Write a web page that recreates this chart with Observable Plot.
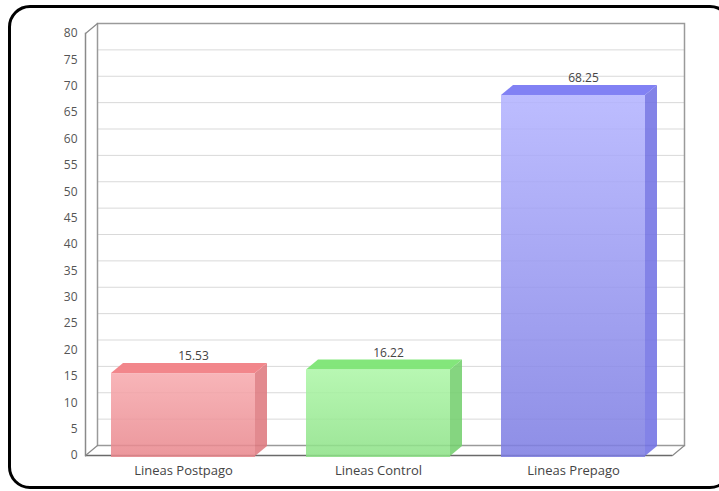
<!DOCTYPE html>
<html>
<head>
<meta charset="utf-8">
<script src="https://cdn.jsdelivr.net/npm/d3@7"></script>
<script src="https://cdn.jsdelivr.net/npm/@observablehq/plot@0.6"></script>
<style>
  html, body { margin: 0; padding: 0; background: #fff; width: 719px; height: 491px; overflow: hidden; }
  #border { position: absolute; left: 8px; top: 5px; width: 718px; height: 478px; border: 3px solid #000; border-radius: 22px; box-sizing: content-box; }
  #chart { position: absolute; left: 0; top: 0; }
  #chart svg { font-family: "Open Sans", sans-serif; }
</style>
</head>
<body>
<div id="border"></div>
<svg width="0" height="0" style="position:absolute">
  <defs>
    <linearGradient id="g0" x1="0" y1="0" x2="0" y2="1">
      <stop offset="0" stop-color="#f7a9ad"/><stop offset="1" stop-color="#e8868c"/>
    </linearGradient>
    <linearGradient id="g1" x1="0" y1="0" x2="0" y2="1">
      <stop offset="0" stop-color="#acf6a6"/><stop offset="1" stop-color="#8ce186"/>
    </linearGradient>
    <linearGradient id="g2" x1="0" y1="0" x2="0" y2="1">
      <stop offset="0" stop-color="#b2b2ff"/><stop offset="1" stop-color="#7c7ce2"/>
    </linearGradient>
  </defs>
</svg>
<div id="chart"></div>
<script>
const categories = ["Lineas Postpago", "Lineas Control", "Lineas Prepago"];
const values = [15.53, 16.22, 68.25];
const labels = ["15.53", "16.22", "68.25"];
const yTicks = [0, 5, 10, 15, 20, 25, 30, 35, 40, 45, 50, 55, 60, 65, 70, 75, 80];
const frontFills = ["url(#g0)", "url(#g1)", "url(#g2)"];
const sideFills = ["#de7a80", "#74cf6e", "#7272e4"];
const topFills = ["#f17f85", "#7ce574", "#7a7af3"];

const data = categories.map((c, i) => ({cat: c, v: values[i], label: labels[i], front: frontFills[i], side: sideFills[i], top: topFills[i]}));

const DX = 12, DY = -10;
const diagShape = {draw(context, l) { context.moveTo(0, 0); context.lineTo(0, -l); }};
const diagLen = Math.hypot(DX, DY);
const diagRot = Math.atan2(DX, -DY) * 180 / Math.PI;

const plot = Plot.plot({
  width: 719,
  height: 491,
  marginLeft: 85,
  marginRight: 47,
  marginTop: 33,
  marginBottom: 36,
  style: {fontFamily: "Open Sans, sans-serif", background: "transparent"},
  x: {domain: categories, paddingInner: 0.26, paddingOuter: 0.13, label: null},
  y: {domain: [0, 80], label: null},
  marks: [
    Plot.ruleY(yTicks, {dx: DX, dy: DY, stroke: "#d9d9d9", strokeWidth: 1, strokeOpacity: 1}),
    Plot.frame({dx: DX, dy: DY, stroke: "#9a9a9a", strokeWidth: 1.5}),
    Plot.frame({anchor: "left", stroke: "#8a8a8a", strokeWidth: 1.5}),
    Plot.ruleY([0], {stroke: "#6a6a6a", strokeWidth: 1.3}),
    Plot.vector([0, 80], {y: d => d, frameAnchor: "left", length: diagLen, rotate: diagRot, anchor: "start", shape: diagShape, stroke: "#8a8a8a", strokeWidth: 1.2}),
    Plot.vector([0], {y: d => d, frameAnchor: "right", length: diagLen, rotate: diagRot, anchor: "start", shape: diagShape, stroke: "#8a8a8a", strokeWidth: 1.2}),
    Plot.barY(data, {x: "cat", y1: 0, y2: "v", fill: "side", fillOpacity: 0.88, className: "side3d", insetBottom: -1}),
    Plot.barY(data, {x: "cat", y1: "v", y2: "v", insetTop: -10, fill: "top", fillOpacity: 0.95, className: "top3d"}),
    Plot.barY(data, {x: "cat", y1: 0, y2: "v", fill: "front", fillOpacity: 0.86, insetBottom: -2}),
    Plot.text(data, {x: "cat", y: "v", text: "label", dx: 10, dy: -17, fill: "#444", fontSize: 12}),
    Plot.axisY(yTicks, {tickSize: 0, tickPadding: 8, fontSize: 12, fill: "#555", label: null}),
    Plot.axisX({tickSize: 0, tickPadding: 10, fontSize: 13, fill: "#444", label: null})
  ]
});

document.getElementById("chart").appendChild(plot);

const root = d3.select(plot);
root.selectAll(".side3d rect").each(function() {
  const r = d3.select(this);
  const x = +r.attr("x"), w = +r.attr("width");
  const xr = x + w;
  r.attr("x", xr).attr("width", DX)
   .attr("transform", `translate(${xr},0) skewY(${Math.atan2(DY, DX) * 180 / Math.PI}) translate(${-xr},0)`);
});
root.selectAll(".top3d rect").each(function() {
  const r = d3.select(this);
  const y = +r.attr("y"), h = +r.attr("height");
  const base = y + h;
  r.attr("transform", `translate(0,${base}) skewX(${Math.atan2(DX, DY) * 180 / Math.PI - 180}) translate(0,${-base})`);
});
</script>
</body>
</html>
